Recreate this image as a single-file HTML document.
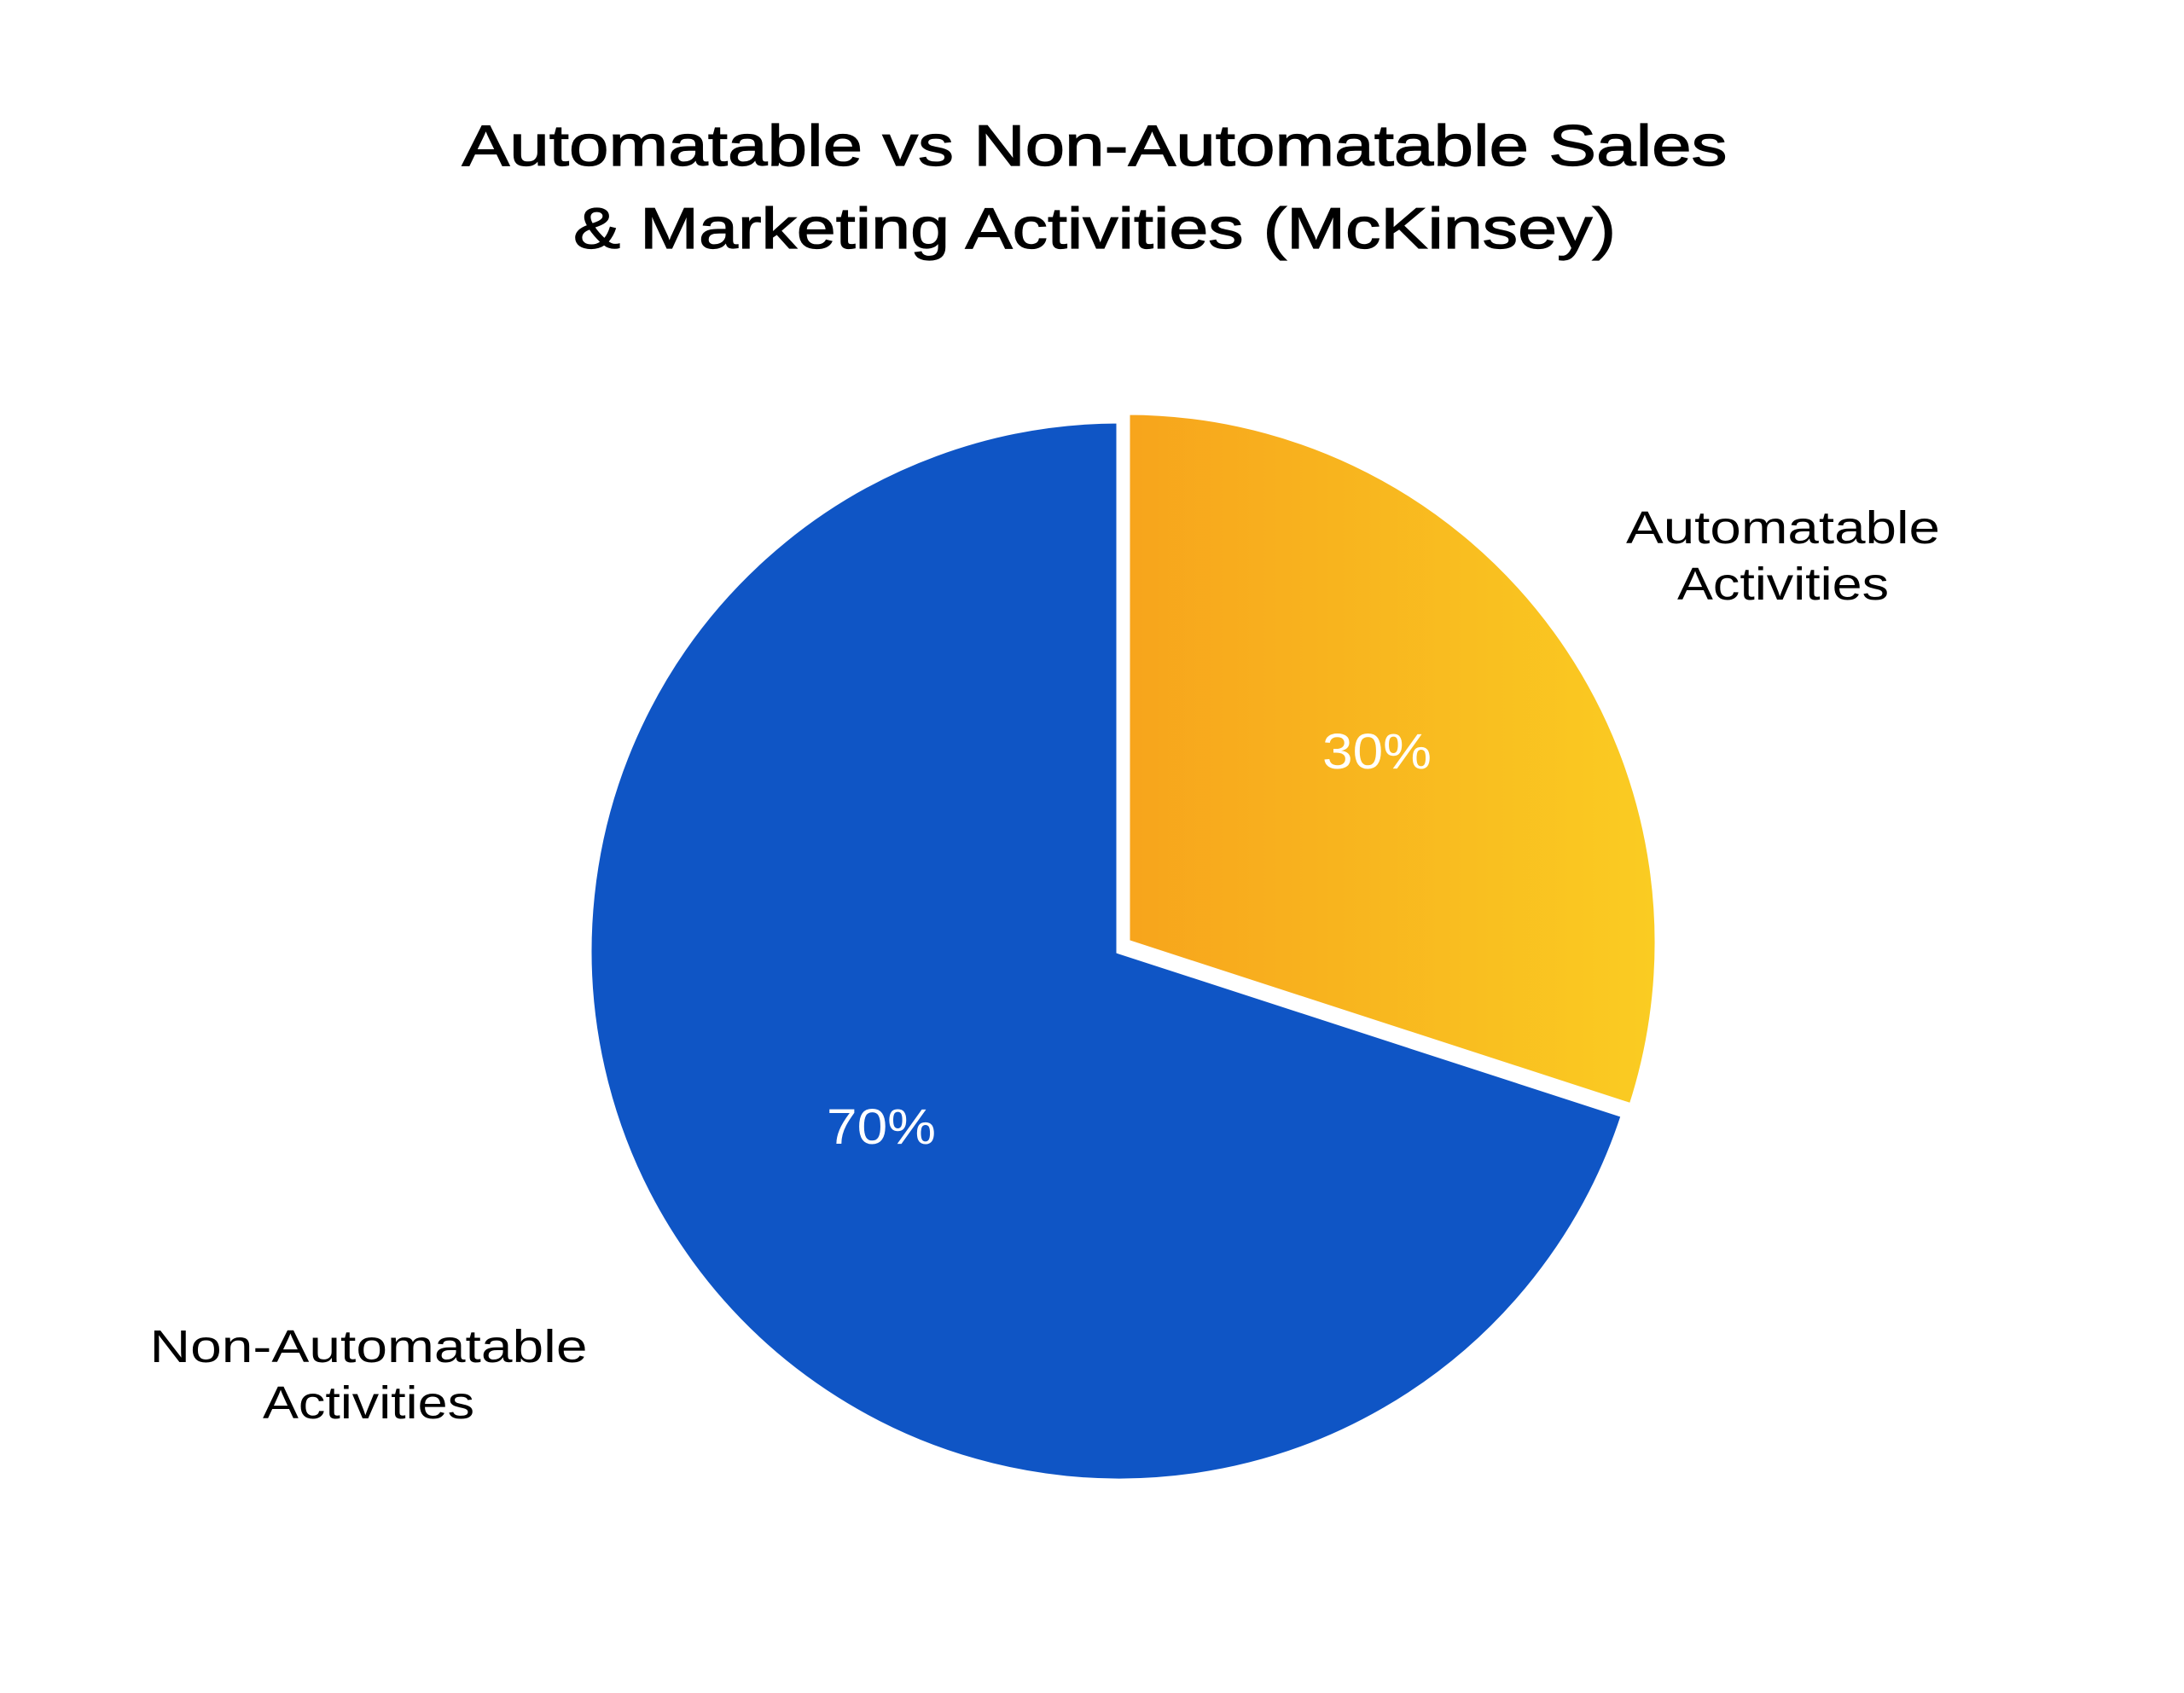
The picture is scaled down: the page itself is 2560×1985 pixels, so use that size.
<!DOCTYPE html>
<html><head><style>html,body{margin:0;padding:0;background:#fff}</style></head>
<body>
<svg width="2560" height="1980" viewBox="0 0 2560 1980" xmlns="http://www.w3.org/2000/svg" font-family="'Liberation Sans', sans-serif">
<defs>
<linearGradient id="g" x1="1323" y1="0" x2="1945" y2="0" gradientUnits="userSpaceOnUse">
<stop offset="0" stop-color="#F7A41C"/><stop offset="1" stop-color="#FACC22"/>
</linearGradient>
</defs>
<rect width="2560" height="1980" fill="#fff"/>
<g transform="translate(-6,-6)">
<path d="M1318,1121 L1909.6,1313.2 A622,622 0 1 1 1318,499 Z" fill="#0F55C5" stroke="#fff" stroke-width="7" stroke-linejoin="miter"/>
<path d="M1327,1111 L1327,489 A622,622 0 0 1 1918.6,1303.2 Z" fill="url(#g)" stroke="#fff" stroke-width="7" stroke-linejoin="miter"/>
<g fill="#000" text-anchor="middle">
<text x="1289" y="200" font-size="68" stroke="#000" stroke-width="1.2" textLength="1483" lengthAdjust="spacingAndGlyphs">Automatable vs Non-Automatable Sales</text>
<text x="1289" y="297" font-size="68" stroke="#000" stroke-width="1.2" textLength="1222" lengthAdjust="spacingAndGlyphs">&amp; Marketing Activities (McKinsey)</text>
<text x="2096" y="643" font-size="54" textLength="368" lengthAdjust="spacingAndGlyphs">Automatable</text>
<text x="2096" y="709" font-size="54" textLength="248" lengthAdjust="spacingAndGlyphs">Activities</text>
<text x="438" y="1603" font-size="54" textLength="513" lengthAdjust="spacingAndGlyphs">Non-Automatable</text>
<text x="438" y="1669" font-size="54" textLength="248" lengthAdjust="spacingAndGlyphs">Activities</text>
</g>
<g fill="#fff" text-anchor="middle" font-size="58">
<text x="1620" y="907" textLength="128" lengthAdjust="spacingAndGlyphs">30%</text>
<text x="1039" y="1347" textLength="128" lengthAdjust="spacingAndGlyphs">70%</text>
</g>
</g>
</svg>
</body></html>
